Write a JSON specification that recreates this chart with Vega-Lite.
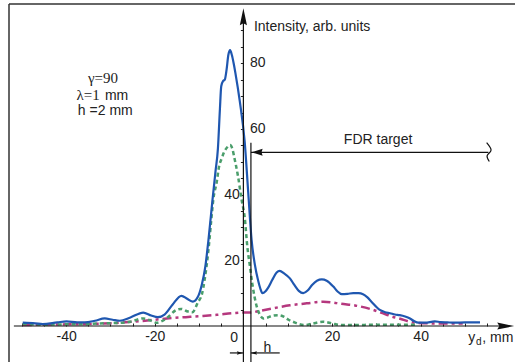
{
  "$schema": "https://vega.github.io/schema/vega-lite/v6.json",
  "width": 506,
  "height": 358,
  "autosize": {"type": "none"},
  "padding": {"left": 9, "top": 4, "right": 0, "bottom": 0},
  "background": "white",
  "config": {
    "view": {"stroke": null},
    "font": "Liberation Sans",
    "axis": {"labelFont": "Liberation Sans", "labelFontSize": 14, "labelColor": "#222", "tickColor": "#222", "grid": false, "title": null, "domain": false, "tickWidth": 1}
  },
  "datasets": {
    "curves": [
      {"series": "total", "x": -49.8, "y": 1.0}, {"series": "total", "x": -47, "y": 0.8}, {"series": "total", "x": -45.3, "y": 0.6}, {"series": "total", "x": -42, "y": 1.1}, {"series": "total", "x": -39.9, "y": 1.4}, {"series": "total", "x": -37.5, "y": 1.1}, {"series": "total", "x": -35.8, "y": 1.1}, {"series": "total", "x": -33.5, "y": 1.6}, {"series": "total", "x": -31.3, "y": 2.3}, {"series": "total", "x": -29.5, "y": 1.9}, {"series": "total", "x": -27.9, "y": 1.6}, {"series": "total", "x": -25.5, "y": 2.6}, {"series": "total", "x": -22.6, "y": 4.1}, {"series": "total", "x": -20.8, "y": 3.2}, {"series": "total", "x": -19.3, "y": 2.7}, {"series": "total", "x": -17.8, "y": 3.5}, {"series": "total", "x": -16, "y": 6.5}, {"series": "total", "x": -14, "y": 9.2}, {"series": "total", "x": -12.6, "y": 8.2}, {"series": "total", "x": -11.4, "y": 7.4}, {"series": "total", "x": -10.3, "y": 8.8}, {"series": "total", "x": -9.4, "y": 12.5}, {"series": "total", "x": -8.6, "y": 18}, {"series": "total", "x": -7.9, "y": 26}, {"series": "total", "x": -7.0, "y": 38}, {"series": "total", "x": -6.3, "y": 47}, {"series": "total", "x": -5.75, "y": 54}, {"series": "total", "x": -5.3, "y": 66}, {"series": "total", "x": -5.0, "y": 73}, {"series": "total", "x": -4.6, "y": 74.6}, {"series": "total", "x": -4.2, "y": 75}, {"series": "total", "x": -3.8, "y": 78}, {"series": "total", "x": -3.4, "y": 82.5}, {"series": "total", "x": -3.0, "y": 84}, {"series": "total", "x": -2.6, "y": 82.5}, {"series": "total", "x": -2.2, "y": 80}, {"series": "total", "x": -1.8, "y": 77}, {"series": "total", "x": -0.8, "y": 68.3}, {"series": "total", "x": 0.3, "y": 56}, {"series": "total", "x": 1.1, "y": 40.5}, {"series": "total", "x": 1.85, "y": 26.2}, {"series": "total", "x": 2.6, "y": 18.6}, {"series": "total", "x": 3.3, "y": 14}, {"series": "total", "x": 3.8, "y": 11.5}, {"series": "total", "x": 4.3, "y": 10}, {"series": "total", "x": 5.0, "y": 10.6}, {"series": "total", "x": 5.6, "y": 11.7}, {"series": "total", "x": 6.5, "y": 14}, {"series": "total", "x": 7.5, "y": 16.3}, {"series": "total", "x": 8.2, "y": 16.8}, {"series": "total", "x": 9.2, "y": 16}, {"series": "total", "x": 10.5, "y": 14.5}, {"series": "total", "x": 11.5, "y": 12.5}, {"series": "total", "x": 12.5, "y": 10.7}, {"series": "total", "x": 13.5, "y": 10}, {"series": "total", "x": 14.5, "y": 10.8}, {"series": "total", "x": 15.5, "y": 12.5}, {"series": "total", "x": 16.6, "y": 13.8}, {"series": "total", "x": 17.7, "y": 14.2}, {"series": "total", "x": 18.8, "y": 13.8}, {"series": "total", "x": 20.3, "y": 12.0}, {"series": "total", "x": 21.2, "y": 10.6}, {"series": "total", "x": 22.2, "y": 9.7}, {"series": "total", "x": 23.5, "y": 9.8}, {"series": "total", "x": 24.8, "y": 10}, {"series": "total", "x": 26, "y": 10}, {"series": "total", "x": 27, "y": 9.7}, {"series": "total", "x": 28, "y": 8.7}, {"series": "total", "x": 28.9, "y": 7.4}, {"series": "total", "x": 30.8, "y": 4.9}, {"series": "total", "x": 32, "y": 4.2}, {"series": "total", "x": 33.1, "y": 3.9}, {"series": "total", "x": 34.2, "y": 3.5}, {"series": "total", "x": 35.3, "y": 3.3}, {"series": "total", "x": 36.5, "y": 2.9}, {"series": "total", "x": 37.6, "y": 2.3}, {"series": "total", "x": 38.5, "y": 1.5}, {"series": "total", "x": 39.5, "y": 1.0}, {"series": "total", "x": 41, "y": 1.0}, {"series": "total", "x": 43.2, "y": 1.4}, {"series": "total", "x": 44.5, "y": 1.2}, {"series": "total", "x": 46, "y": 1.1}, {"series": "total", "x": 47.7, "y": 1.0}, {"series": "total", "x": 50, "y": 1.1}, {"series": "total", "x": 53.4, "y": 1.1},
      {"series": "green", "x": -49.8, "y": 0.6}, {"series": "green", "x": -45, "y": 0.4}, {"series": "green", "x": -40, "y": 0.5}, {"series": "green", "x": -36, "y": 0.5}, {"series": "green", "x": -32.4, "y": 0.8}, {"series": "green", "x": -29, "y": 0.9}, {"series": "green", "x": -25.6, "y": 1.3}, {"series": "green", "x": -22.6, "y": 2.3}, {"series": "green", "x": -21, "y": 1.7}, {"series": "green", "x": -19.6, "y": 1.0}, {"series": "green", "x": -17.5, "y": 2.2}, {"series": "green", "x": -15.1, "y": 4.9}, {"series": "green", "x": -14, "y": 5.2}, {"series": "green", "x": -12.5, "y": 4.4}, {"series": "green", "x": -11.5, "y": 4.2}, {"series": "green", "x": -10.2, "y": 7.4}, {"series": "green", "x": -9.4, "y": 9.5}, {"series": "green", "x": -8.7, "y": 14.5}, {"series": "green", "x": -7.9, "y": 23}, {"series": "green", "x": -7.2, "y": 33}, {"series": "green", "x": -6.8, "y": 38.4}, {"series": "green", "x": -6.0, "y": 44}, {"series": "green", "x": -5.5, "y": 48.5}, {"series": "green", "x": -4.9, "y": 51}, {"series": "green", "x": -4.4, "y": 52.8}, {"series": "green", "x": -3.6, "y": 54.5}, {"series": "green", "x": -3.0, "y": 55.1}, {"series": "green", "x": -2.5, "y": 54}, {"series": "green", "x": -2.0, "y": 51}, {"series": "green", "x": -1.2, "y": 45.5}, {"series": "green", "x": -0.4, "y": 38.4}, {"series": "green", "x": 0.3, "y": 33}, {"series": "green", "x": 0.9, "y": 24}, {"series": "green", "x": 1.5, "y": 18}, {"series": "green", "x": 2.0, "y": 13}, {"series": "green", "x": 2.5, "y": 9}, {"series": "green", "x": 3.0, "y": 6}, {"series": "green", "x": 3.7, "y": 3.5}, {"series": "green", "x": 4.5, "y": 2.3}, {"series": "green", "x": 5.5, "y": 2.6}, {"series": "green", "x": 6.5, "y": 3.1}, {"series": "green", "x": 7.9, "y": 3.3}, {"series": "green", "x": 9.2, "y": 2.8}, {"series": "green", "x": 10.2, "y": 1.9}, {"series": "green", "x": 11.2, "y": 1.3}, {"series": "green", "x": 12.5, "y": 0.6}, {"series": "green", "x": 13.9, "y": 0.3}, {"series": "green", "x": 15.5, "y": 0.7}, {"series": "green", "x": 18, "y": 1.3}, {"series": "green", "x": 20, "y": 0.8}, {"series": "green", "x": 21.8, "y": 0.3}, {"series": "green", "x": 25, "y": 0.3}, {"series": "green", "x": 30, "y": 0.4}, {"series": "green", "x": 35, "y": 0.4}, {"series": "green", "x": 39, "y": 0.4},
      {"series": "magenta", "x": -49.8, "y": 0.3}, {"series": "magenta", "x": -45, "y": 0.4}, {"series": "magenta", "x": -40, "y": 0.5}, {"series": "magenta", "x": -35, "y": 0.6}, {"series": "magenta", "x": -32.4, "y": 0.7}, {"series": "magenta", "x": -28, "y": 1.0}, {"series": "magenta", "x": -24.9, "y": 1.3}, {"series": "magenta", "x": -20, "y": 1.9}, {"series": "magenta", "x": -17.3, "y": 2.3}, {"series": "magenta", "x": -13, "y": 2.7}, {"series": "magenta", "x": -9.8, "y": 3.0}, {"series": "magenta", "x": -6, "y": 3.4}, {"series": "magenta", "x": -2.3, "y": 3.9}, {"series": "magenta", "x": 0, "y": 4.1}, {"series": "magenta", "x": 1.5, "y": 4.1}, {"series": "magenta", "x": 3.7, "y": 4.6}, {"series": "magenta", "x": 6.7, "y": 5.4}, {"series": "magenta", "x": 10.5, "y": 6.3}, {"series": "magenta", "x": 14.3, "y": 6.9}, {"series": "magenta", "x": 18, "y": 7.4}, {"series": "magenta", "x": 20, "y": 7.2}, {"series": "magenta", "x": 21.8, "y": 6.8}, {"series": "magenta", "x": 25.4, "y": 6.2}, {"series": "magenta", "x": 28.6, "y": 5.2}, {"series": "magenta", "x": 31.2, "y": 4.0}, {"series": "magenta", "x": 33.5, "y": 2.9}, {"series": "magenta", "x": 35.9, "y": 2.0}, {"series": "magenta", "x": 37.5, "y": 1.3}, {"series": "magenta", "x": 39.3, "y": 0.9}, {"series": "magenta", "x": 42, "y": 0.8}, {"series": "magenta", "x": 46, "y": 0.8}, {"series": "magenta", "x": 49.5, "y": 0.8}
    ]
  },
  "encoding": {
    "x": {"field": "x", "type": "quantitative", "scale": {"domain": [-52.9, 61.3], "nice": false, "zero": false},
      "axis": {"values": [-50, -45, -40, -35, -30, -25, -20, -15, -10, -5, 0, 5, 10, 15, 20, 25, 30, 35, 40, 45, 50, 55], "tickSize": -3, "offset": -36, "labelPadding": 6, "labelExpr": "datum.value % 20 == 0 && datum.value != 0 ? '' + datum.value : ''"}},
    "y": {"field": "y", "type": "quantitative", "scale": {"domain": [-10.96, 98.05], "nice": false, "zero": false},
      "axis": {"values": [5, 10, 15, 20, 25, 30, 35, 40, 45, 50, 55, 60, 65, 70, 75, 80, 85, 90], "tickSize": 3, "offset": -234.4, "labelPadding": 1, "labelExpr": "datum.value == 20 || datum.value == 40 ? '' + datum.value : ''"}}
  },
  "layer": [
    {"data": {"name": "curves"}, "transform": [{"filter": "datum.series == 'magenta'"}], "mark": {"type": "line", "color": "#b5387e", "strokeWidth": 2.5, "strokeDash": [9, 4, 3, 4], "interpolate": "monotone"}},
    {"data": {"name": "curves"}, "transform": [{"filter": "datum.series == 'green'"}], "mark": {"type": "line", "color": "#4a9e6b", "strokeWidth": 2.5, "strokeDash": [4, 3], "interpolate": "monotone"}},
    {"data": {"name": "curves"}, "transform": [{"filter": "datum.series == 'total'"}], "mark": {"type": "line", "color": "#1f57b0", "strokeWidth": 2.2, "interpolate": "monotone"}},
    {"data": {"values": [
      {"x": -52.9, "x2": -52.9, "y": -10.96, "y2": 98.05},
      {"x": -52.9, "x2": 61.3, "y": 98.05, "y2": 98.05}
    ]}, "mark": {"type": "rule", "color": "#333", "strokeWidth": 1.5},
     "encoding": {"x2": {"field": "x2"}, "y2": {"field": "y2"}}},
    {"data": {"values": [
      {"x": -51.8, "x2": 58, "y": 0, "y2": 0},
      {"x": 0, "x2": 0, "y": -10.96, "y2": 94},
      {"x": 1.7, "x2": 1.7, "y": -10.96, "y2": 55.8},
      {"x": 1.7, "x2": 55.3, "y": 52.9, "y2": 52.9},
      {"x": -3.05, "x2": 0, "y": -8.2, "y2": -8.2},
      {"x": 1.7, "x2": 8.2, "y": -8.2, "y2": -8.2}
    ]}, "mark": {"type": "rule", "color": "#111", "strokeWidth": 1.2},
     "encoding": {"x2": {"field": "x2"}, "y2": {"field": "y2"}}},
    {"data": {"values": [
      {"i": 1, "x": 54.9, "y": 55.85}, {"i": 2, "x": 55.9, "y": 53.6}, {"i": 3, "x": 55.0, "y": 51.8}, {"i": 4, "x": 55.5, "y": 50.1}
    ]}, "mark": {"type": "line", "color": "#111", "strokeWidth": 1.2, "interpolate": "cardinal"},
     "encoding": {"order": {"field": "i"}}},
    {"data": {"values": [{"x": 0, "y": 94.15}]}, "mark": {"type": "point", "shape": "M0,-1L0.42,1L0,0.75L-0.42,1Z", "size": 289, "filled": true, "color": "#111", "opacity": 1}},
    {"data": {"values": [{"x": 59.2, "y": 0}]}, "mark": {"type": "point", "shape": "M1,0L-1,0.42L-0.75,0L-1,-0.42Z", "size": 289, "filled": true, "color": "#111", "opacity": 1}},
    {"data": {"values": [{"x": 3.1, "y": 52.9}]}, "mark": {"type": "point", "shape": "M-1,0L1,-0.64L0.8,0L1,0.64Z", "size": 121, "filled": true, "color": "#111", "opacity": 1}},
    {"data": {"values": [{"x": -0.8, "y": -8.2}]}, "mark": {"type": "point", "shape": "M1,0L-1,0.6L-0.7,0L-1,-0.6Z", "size": 36, "filled": true, "color": "#111", "opacity": 1}},
    {"data": {"values": [{"x": 2.4, "y": -8.2}]}, "mark": {"type": "point", "shape": "M-1,0L1,-0.6L0.7,0L1,0.6Z", "size": 36, "filled": true, "color": "#111", "opacity": 1}},
    {"data": {"values": [
      {"x": 2.37, "y": 89.9, "text": "Intensity, arb. units"},
      {"x": 1.47, "y": 58.7, "text": "60"},
      {"x": 1.47, "y": 79.0, "text": "80"},
      {"x": 50.75, "y": -4.8, "text": "y"},
      {"x": 53.9, "y": -4.8, "text": ", mm"},
      {"x": -31.26, "y": 68.8, "text": "mm"},
      {"x": -37.36, "y": 64.25, "text": "h =2 mm"}
    ]}, "mark": {"type": "text", "align": "left", "baseline": "alphabetic", "font": "Liberation Sans", "fontSize": 14, "color": "#222"},
     "encoding": {"text": {"field": "text"}}},
    {"data": {"values": [
      {"x": 30.4, "y": 55.4, "text": "FDR target"},
      {"x": 5.4, "y": -7.77, "text": "h"}
    ]}, "mark": {"type": "text", "align": "center", "baseline": "alphabetic", "font": "Liberation Sans", "fontSize": 14, "color": "#222"},
     "encoding": {"text": {"field": "text"}}},
    {"data": {"values": [{"x": -1.2, "y": -4.8, "text": "0"}]}, "mark": {"type": "text", "align": "right", "baseline": "alphabetic", "font": "Liberation Sans", "fontSize": 14, "color": "#222"},
     "encoding": {"text": {"field": "text"}}},
    {"data": {"values": [{"x": 52.5, "y": -5.8, "text": "d"}]}, "mark": {"type": "text", "align": "left", "baseline": "alphabetic", "font": "Liberation Sans", "fontSize": 10, "color": "#222"},
     "encoding": {"text": {"field": "text"}}},
    {"data": {"values": [
      {"x": -28.3, "y": 73.9, "text": "γ=90"},
      {"x": -32.4, "y": 68.8, "text": "λ=1"}
    ]}, "mark": {"type": "text", "align": "right", "baseline": "alphabetic", "font": "Liberation Serif, DejaVu Serif, serif", "fontSize": 15, "color": "#222"},
     "encoding": {"text": {"field": "text"}}}
  ]
}
